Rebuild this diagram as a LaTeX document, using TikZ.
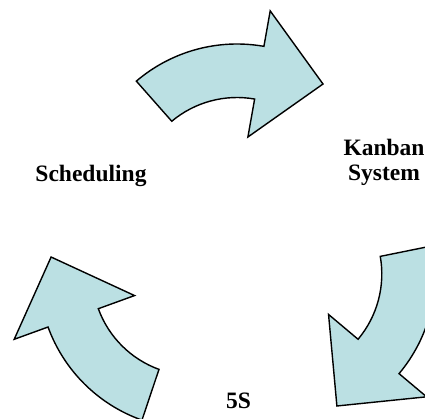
\documentclass[tikz,border=0pt]{standalone}
\usepackage{fontspec}
\setmainfont{Liberation Serif}
\definecolor{arrowfill}{RGB}{187,224,227}
\tikzset{
  cyclearrow/.style={fill=arrowfill, draw=black, line width=1.4pt, line join=miter},
  lbl/.style={font=\fontsize{23.5}{25}\selectfont\bfseries, inner sep=0pt}
}
\begin{document}
\begin{tikzpicture}[x=1pt,y=-1pt]
\clip (0,0) rectangle (425,418);
\foreach \ang in {0,-120,-240} {
  \begin{scope}[shift={(237,249)}, rotate=\ang]
    \draw[cyclearrow] (-100.66,-167.86)
      arc[start angle=-130.5, end angle=-80, radius=155]
      -- (33.2,-238.1) -- (86,-165) -- (10.9,-112) -- (17.63,-149.96)
      arc[start angle=-80, end angle=-130, radius=101.5]
      -- cycle;
  \end{scope}
}
\node[lbl, anchor=base] (sched) at (91,181.5) {Scheduling};
\node[lbl, align=center] (kanban) at (384,162) {Kanban\\System};
\node[lbl, anchor=base] (fives) at (238.5,408) {5S};
\end{tikzpicture}
\end{document}
